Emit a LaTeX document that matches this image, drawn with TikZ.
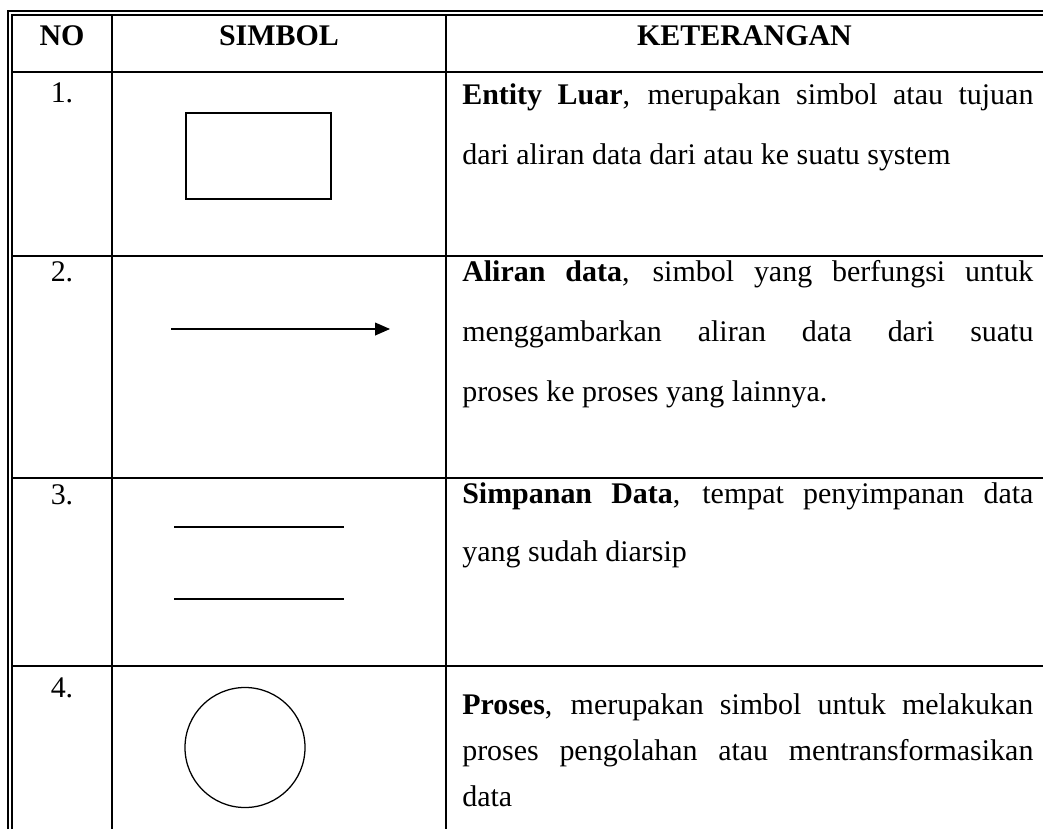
\documentclass[tikz,border=0pt]{standalone}
\usepackage{fontspec}
\setmainfont{Liberation Serif}
\usetikzlibrary{arrows.meta}

\tikzset{
  frameRule/.style={draw,line width=1.1pt},
  cellRule/.style={draw,line width=1.3pt},
  symbolLine/.style={draw,line width=0.9pt},
  cellText/.style={inner sep=0pt,anchor=base},
  descText/.style={inner sep=0pt,anchor=base west},
}
\newcommand{\fullline}[1]{\makebox[14.275cm][s]{#1}}

\begin{document}
\begin{tikzpicture}[x=0.025cm,y=-0.025cm,font=\fontsize{21.3}{26}\selectfont]
  \useasboundingbox (0,0) rectangle (1043,829);

  % double frame on top and left, then the grid
  \path[frameRule] (8,829) -- (8,11) -- (1043,11);
  \path[frameRule] (12,829) -- (12,15) -- (1043,15);
  \foreach \x in {112,446} {\path[cellRule] (\x,15) -- (\x,829);}
  \foreach \y in {72,256,478,666} {\path[cellRule] (12,\y) -- (1043,\y);}

  % header
  \node[cellText,font=\fontsize{21.3}{26}\selectfont\bfseries] (headNo) at (62,45) {NO};
  \node[cellText,font=\fontsize{21.3}{26}\selectfont\bfseries] (headSimbol) at (279,45) {SIMBOL};
  \node[cellText,font=\fontsize{21.3}{26}\selectfont\bfseries] (headKet) at (744.5,45) {KETERANGAN};

  \foreach \i/\y in {1/102,2/281,3/504,4/697} {
    \node[cellText] (no\i) at (62,\y) {\i.};
  }

  % symbols
  \path[symbolLine] (186,113) rectangle (331,199);
  \coordinate (flowStart) at (171,329);
  \coordinate (flowEnd) at (390,329);
  \draw[symbolLine,-{Triangle[length=10.5pt,width=9pt]}] (flowStart) -- (flowEnd);
  \path[symbolLine] (174,527) -- (344,527);
  \path[symbolLine] (174,599) -- (344,599);
  \path[symbolLine] (245,747.5) circle[radius=1.5cm];

  % descriptions
  \foreach \n/\y/\txt in {
    entity1/104/{\fullline{\textbf{Entity Luar}, merupakan simbol atau tujuan}},
    entity2/164/{dari aliran data dari atau ke suatu system},
    flow1/281/{\fullline{\textbf{Aliran data}, simbol yang berfungsi untuk}},
    flow2/341/{\fullline{menggambarkan aliran data dari suatu}},
    flow3/401/{proses ke proses yang lainnya.},
    store1/503/{\fullline{\textbf{Simpanan Data}, tempat penyimpanan data}},
    store2/561/{yang sudah diarsip},
    proc1/714/{\fullline{\textbf{Proses}, merupakan simbol untuk melakukan}},
    proc2/760/{\fullline{proses pengolahan atau mentransformasikan}},
    proc3/806/{data}
  }{
    \node[descText] (\n) at (462,\y) {\txt};
  }
\end{tikzpicture}
\end{document}
